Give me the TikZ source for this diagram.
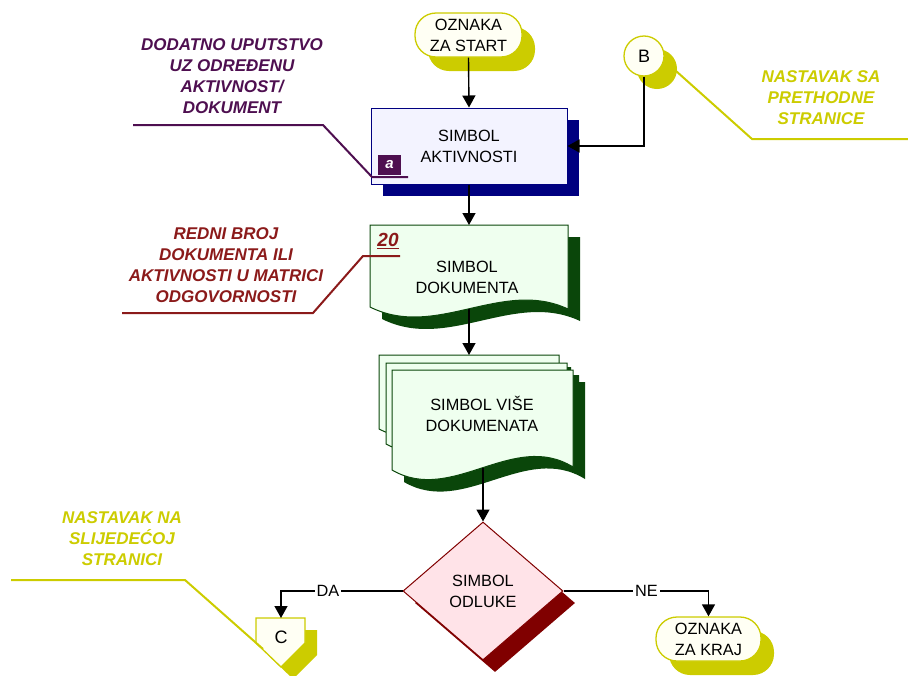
\documentclass[tikz,border=0pt]{standalone}
\usepackage{fontspec}
\setmainfont{Liberation Sans}
\usetikzlibrary{arrows.meta,shapes.geometric}
\definecolor{yel}{RGB}{204,204,0}
\definecolor{ivory}{RGB}{255,255,244}
\definecolor{navyc}{RGB}{0,0,128}
\definecolor{lav}{RGB}{243,243,255}
\definecolor{dgreen}{RGB}{10,70,10}
\definecolor{lgreen}{RGB}{239,255,239}
\definecolor{pinkc}{RGB}{255,227,232}
\definecolor{dred}{RGB}{128,0,0}
\definecolor{purp}{RGB}{78,15,80}
\definecolor{redtxt}{RGB}{139,26,26}
\begin{document}
\begin{tikzpicture}[x=1pt,y=-1pt,
  txt/.style={font=\fontsize{16.3}{21}\selectfont, align=center, inner sep=0pt},
  callout/.style={font=\fontsize{17}{21}\selectfont\bfseries\itshape, align=center, inner sep=0pt},
  arr/.style={line width=1.4pt, -{Triangle[width=13pt,length=12pt]}},
  pill/.style={rectangle, rounded corners=21pt, minimum width=107pt, minimum height=44pt, inner sep=0pt},
  pillshadow/.style={pill, fill=yel},
  pillbody/.style={pill, fill=ivory, draw=yel, line width=1.3pt},
  lbl/.style={fill=white, inner sep=2pt, font=\fontsize{16.3}{20}\selectfont},
  leader/.style={line width=2pt}
]
\useasboundingbox (0,0) rectangle (908,675);

% ---------- start pill ----------
\node[pillshadow] (startsh) at (481.5,49) {};
\node[pillbody, txt] (start) at (468.5,35) {OZNAKA\\ZA START};

% ---------- B connector ----------
\node[circle, fill=yel, minimum size=40pt, inner sep=0pt] (Bsh) at (657,69) {};
\node[circle, fill=ivory, draw=yel, line width=1.3pt, minimum size=40pt, inner sep=0pt,
      font=\fontsize{18}{20}\selectfont] (B) at (644,56) {B};

% ---------- activity ----------
\node[rectangle, fill=navyc, minimum width=196pt, minimum height=76pt, inner sep=0pt] (actsh) at (481,158) {};
\node[rectangle, fill=lav, draw=navyc, line width=1pt, minimum width=196pt, minimum height=76pt,
      inner sep=0pt, txt] (act) at (469,146) {SIMBOL\\AKTIVNOSTI};

% purple leader + "a"
\coordinate (pl0) at (133,125);
\coordinate (pl1) at (323,125);
\coordinate (pl2) at (372,177);
\coordinate (pl3) at (408,177);
\draw[leader, purp] (pl0) -- (pl1) -- (pl2) -- (pl3);
\node[fill=purp, minimum width=23pt, minimum height=20pt, inner sep=0pt, text=white,
      font=\fontsize{15}{16}\selectfont\bfseries\itshape] (abox) at (389.5,165) {a};
\node[callout, text=purp] (note1) at (232,76) {DODATNO UPUTSTVO\\UZ ODREĐENU\\AKTIVNOST/\\DOKUMENT};

% ---------- document ----------
\begin{scope}[shift={(12,12)}]
  \fill[dgreen] (370,225) -- (568,225) -- (568,309) .. controls (502,278) and (436,340) .. (370,307) -- cycle;
\end{scope}
\draw[fill=lgreen, draw=dgreen, line width=1pt] (370,225) -- (568,225) -- (568,309) .. controls (502,278) and (436,340) .. (370,307) -- cycle;
\node[txt] (doc) at (467,277) {SIMBOL\\DOKUMENTA};
\coordinate (doctop) at (469,225);
\coordinate (docbot) at (469,309);

% red leader + 20
\coordinate (rl0) at (122,313);
\coordinate (rl1) at (313,313);
\coordinate (rl2) at (363,256);
\coordinate (rl3) at (400,256);
\draw[leader, redtxt] (rl0) -- (rl1) -- (rl2) -- (rl3);
\node[text=redtxt, font=\fontsize{19}{20}\selectfont\bfseries\itshape, inner sep=0pt] (num) at (388,241) {\underline{20}};
\node[callout, text=redtxt] (note2) at (226,265) {REDNI BROJ\\DOKUMENTA ILI\\AKTIVNOSTI U MATRICI\\ODGOVORNOSTI};

% ---------- multiple documents ----------
\begin{scope}[shift={(12,12)}]
  \fill[dgreen] (379,355) -- (559,355) -- (559,428) .. controls (499,396) and (439,460) .. (379,429) -- cycle;
  \fill[dgreen] (386,363) -- (567,363) -- (567,442) .. controls (507,408) and (446,476) .. (386,444) -- cycle;
  \fill[dgreen] (392,370) -- (573,370) -- (573,467) .. controls (513,430) and (452,505) .. (392,470) -- cycle;
\end{scope}
\draw[fill=lgreen, draw=dgreen, line width=1pt] (379,355) -- (559,355) -- (559,428) .. controls (499,396) and (439,460) .. (379,429) -- cycle;
\draw[fill=lgreen, draw=dgreen, line width=1pt] (386,363) -- (567,363) -- (567,442) .. controls (507,408) and (446,476) .. (386,444) -- cycle;
\draw[fill=lgreen, draw=dgreen, line width=1pt] (392,370) -- (573,370) -- (573,467) .. controls (513,430) and (452,505) .. (392,470) -- cycle;
\node[txt] (mdoc) at (482,414) {SIMBOL VIŠE\\DOKUMENATA};
\coordinate (mtop) at (469,355);
\coordinate (mbot) at (483,468);

% ---------- decision ----------
\node[diamond, fill=dred, minimum width=160pt, minimum height=138pt, inner sep=0pt] (decsh) at (495,603) {};
\node[diamond, fill=pinkc, draw=dred, line width=1pt, minimum width=160pt, minimum height=138pt,
      inner sep=0pt, txt] (dec) at (483,591) {SIMBOL\\ODLUKE};

% ---------- end pill ----------
\node[pillshadow, minimum width=105pt] (endsh) at (721.5,653) {};
\node[pillbody, txt, minimum width=105pt] (endn) at (708.5,639) {OZNAKA\\ZA KRAJ};

% ---------- C off-page connector ----------
\fill[yel] (268,630) -- (317,630) -- (317,655) -- (293,679) -- (268,655) -- cycle;
\draw[fill=ivory, draw=yel, line width=1.3pt] (256,618) -- (305,618) -- (305,643) -- (281,667) -- (256,643) -- cycle;
\node[font=\fontsize{18}{20}\selectfont, inner sep=0pt] (C) at (281,637) {C};
\coordinate (Ctop) at (281,618);

% yellow leaders
\coordinate (yl0) at (11,580);
\coordinate (yl1) at (185,580);
\coordinate (yl2) at (263,649);
\draw[leader, yel] (yl0) -- (yl1) -- (yl2);
\node[callout, text=yel] (note3) at (122,539) {NASTAVAK NA\\SLIJEDEĆOJ\\STRANICI};

\coordinate (bl0) at (676,71);
\coordinate (bl1) at (752,139);
\coordinate (bl2) at (908,139);
\draw[leader, yel] (bl0) -- (bl1) -- (bl2);
\node[callout, text=yel] (note4) at (821,98) {NASTAVAK SA\\PRETHODNE\\STRANICE};

% ---------- connectors ----------
\draw[arr] (start.south) -- (act.north);
\draw[arr] (B.south) |- (act.east);
\draw[arr] (act.south) -- (doctop);
\draw[arr] (docbot) -- (mtop);
\draw[arr] (mbot) -- (dec.north);
\draw[arr] (dec.west) -| node[lbl, pos=0.307] {DA} (Ctop);
\draw[arr] (dec.east) -| node[lbl, pos=0.286] {NE} (endn.north);
\end{tikzpicture}
\end{document}
